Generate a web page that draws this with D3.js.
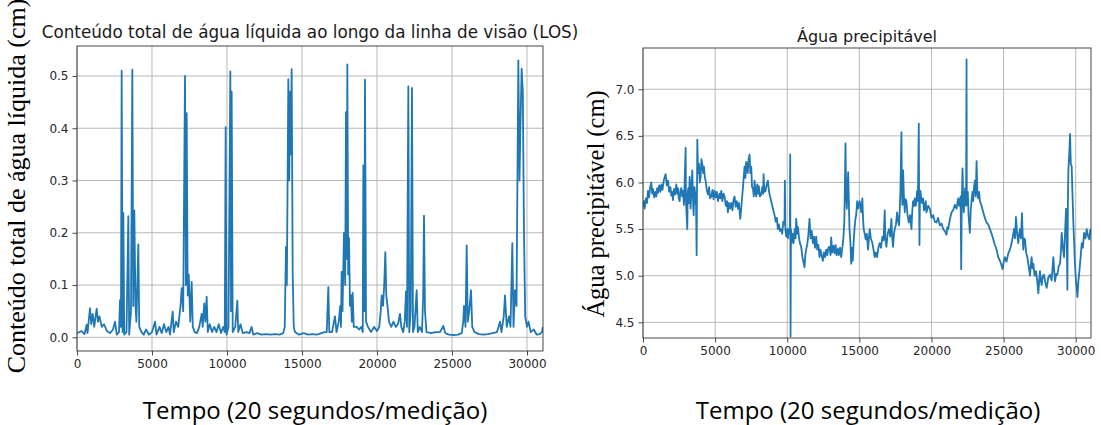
<!DOCTYPE html>
<html>
<head>
<meta charset="utf-8">
<script src="https://cdn.jsdelivr.net/npm/d3@7"></script>
<style>
  html, body { margin: 0; padding: 0; background: #fff; }
  svg { display: block; }
</style>
</head>
<body>
<svg id="chart" width="1101" height="425"></svg>
<script>
// ---------- DATA ----------
const xTicks = [0, 5000, 10000, 15000, 20000, 25000, 30000];
const lwcTicks = [0.0, 0.1, 0.2, 0.3, 0.4, 0.5];
const pwTicks = [4.5, 5.0, 5.5, 6.0, 6.5, 7.0];

const leftTitle = "Conteúdo total de água líquida ao longo da linha de visão (LOS)";
const rightTitle = "Água precipitável";
const leftYLabel = "Conteúdo total de água líquida (cm)";
const rightYLabel = "Água precipitável (cm)";
const xLabel = "Tempo (20 segundos/medição)";

const lwcTime = [0,300,500,644,700,867,950,1050,1150,1311,1400,1500,1650,1800,2000,2200,2400,2533,2650,2800,2867,2930,2978,3040,3089,3150,3300,3422,3480,3600,3689,3750,3822,3900,3960,4089,4150,4300,4450,4600,4800,5000,5200,5300,5500,5650,5800,5950,6100,6200,6378,6450,6600,6750,6900,6978,7080,7200,7260,7311,7380,7450,7550,7644,7720,7850,8000,8150,8311,8380,8480,8560,8644,8720,8850,9000,9150,9300,9450,9600,9750,9850,9911,9970,10100,10222,10270,10311,10380,10550,10689,10750,10900,11050,11300,11500,11644,11750,12000,12300,12600,12900,13200,13500,13750,13850,13933,13990,14089,14150,14200,14250,14311,14380,14450,14533,14800,15100,15400,15700,16000,16200,16500,16650,16756,16820,17000,17200,17300,17450,17550,17600,17644,17700,17800,17880,17933,17980,18022,18080,18133,18200,18270,18320,18378,18450,18650,18800,18950,19050,19089,19150,19200,19270,19400,19600,19800,20000,20150,20250,20311,20400,20480,20556,20620,20700,20800,20950,21100,21250,21400,21533,21620,21750,21850,21933,22000,22089,22150,22250,22333,22400,22500,22644,22720,22850,23000,23080,23133,23200,23300,23600,23900,24200,24422,24550,24800,25100,25400,25650,25750,25800,25900,25978,26050,26150,26267,26350,26500,26800,27100,27400,27700,28000,28200,28300,28450,28533,28650,28800,28900,29022,29100,29200,29300,29422,29500,29560,29644,29720,29800,29880,30000,30100,30250,30450,30650,30850,31000,31060];
const lwcValues = [0.008,0.012,0.006,0.024,0.008,0.056,0.025,0.045,0.02,0.055,0.03,0.04,0.02,0.025,0.012,0.008,0.015,0.03,0.005,0.01,0.071,0.02,0.51,0.01,0.238,0.005,0.01,0.232,0.005,0.05,0.512,0.06,0.243,0.06,0.03,0.178,0.02,0.01,0.005,0.015,0.005,0.01,0.03,0.005,0.02,0.008,0.025,0.01,0.02,0.005,0.049,0.01,0.03,0.02,0.06,0.094,0.05,0.50,0.1,0.429,0.08,0.12,0.03,0.106,0.02,0.01,0.008,0.02,0.045,0.02,0.065,0.03,0.078,0.01,0.025,0.01,0.02,0.01,0.025,0.008,0.02,0.01,0.402,0.005,0.02,0.509,0.05,0.47,0.01,0.02,0.07,0.01,0.025,0.008,0.01,0.008,0.02,0.005,0.008,0.005,0.006,0.005,0.006,0.005,0.008,0.02,0.173,0.1,0.494,0.3,0.47,0.35,0.513,0.12,0.02,0.01,0.005,0.008,0.005,0.006,0.005,0.007,0.01,0.01,0.096,0.01,0.01,0.04,0.01,0.03,0.06,0.02,0.125,0.05,0.2,0.1,0.431,0.15,0.522,0.12,0.19,0.06,0.08,0.03,0.085,0.02,0.02,0.015,0.02,0.01,0.329,0.05,0.493,0.03,0.02,0.01,0.02,0.012,0.02,0.05,0.08,0.06,0.1,0.163,0.08,0.06,0.03,0.02,0.03,0.02,0.025,0.045,0.02,0.01,0.03,0.088,0.02,0.48,0.01,0.05,0.477,0.01,0.02,0.09,0.01,0.02,0.01,0.08,0.233,0.05,0.01,0.008,0.01,0.01,0.022,0.008,0.005,0.004,0.005,0.008,0.03,0.06,0.02,0.176,0.03,0.05,0.09,0.02,0.01,0.006,0.005,0.006,0.008,0.01,0.03,0.01,0.04,0.08,0.02,0.04,0.02,0.18,0.02,0.09,0.06,0.53,0.3,0.4,0.514,0.47,0.2,0.04,0.02,0.03,0.01,0.015,0.005,0.006,0.01,0.02];

// Precipitable water: [time index, value in cm]
const pwSeries = [
[0,5.74],[60,5.80],[115,5.72],[200,5.83],[280,5.78],[346,5.91],[420,5.84],[500,5.95],[577,6.00],[640,5.88],
[693,5.93],[780,5.84],[850,5.90],[924,5.85],[980,5.94],[1039,5.89],[1120,5.97],[1200,5.90],[1270,5.98],[1350,5.92],
[1450,6.03],[1570,6.09],[1650,5.97],[1732,6.02],[1820,5.90],[1900,5.95],[1963,5.86],[2020,5.90],[2078,5.81],[2150,5.93],
[2230,5.87],[2309,5.98],[2370,5.88],[2424,5.94],[2480,5.83],[2540,5.80],[2600,5.92],[2655,5.94],[2720,5.85],[2771,5.91],
[2840,5.76],[2956,6.37],[2980,5.80],[3071,5.50],[3100,5.88],[3140,5.94],[3190,5.78],[3233,6.06],[3302,5.72],[3360,5.95],
[3417,6.13],[3470,5.80],[3510,5.65],[3570,5.95],[3625,5.87],[3680,5.75],[3718,5.22],[3764,6.46],[3820,6.10],[3879,6.20],
[3940,6.00],[3995,6.06],[4050,6.25],[4110,6.20],[4170,6.10],[4226,6.17],[4290,6.05],[4341,6.02],[4420,5.92],[4503,5.87],
[4580,5.95],[4650,5.83],[4734,5.85],[4820,5.92],[4890,5.82],[4965,5.91],[5050,5.84],[5120,5.90],[5196,5.80],[5300,5.88],
[5360,5.83],[5426,5.91],[5500,5.80],[5580,5.88],[5657,5.85],[5740,5.75],[5820,5.80],[5888,5.68],[5950,5.78],[6030,5.72],
[6119,5.78],[6200,5.70],[6280,5.82],[6350,5.85],[6420,5.74],[6500,5.80],[6581,5.72],[6650,5.78],[6743,5.61],[6800,5.70],
[6860,5.82],[6927,5.94],[6980,6.05],[7043,6.17],[7100,6.05],[7150,6.22],[7204,6.20],[7260,6.10],[7320,6.25],[7389,6.30],
[7440,6.10],[7504,6.17],[7560,5.95],[7620,5.94],[7680,5.85],[7735,6.02],[7790,5.90],[7851,5.85],[7920,5.98],[7980,5.88],
[8035,5.96],[8100,5.85],[8197,5.87],[8270,5.95],[8330,5.88],[8359,6.09],[8420,5.90],[8497,5.91],[8580,5.98],[8659,6.02],
[8740,5.90],[8810,5.85],[8890,5.80],[8960,5.75],[9040,5.70],[9121,5.65],[9200,5.58],[9280,5.62],[9351,5.50],[9420,5.55],
[9500,5.48],[9582,5.50],[9650,5.45],[9730,5.58],[9813,5.55],[9836,6.02],[9870,5.50],[9929,5.42],[10000,5.50],[10060,5.40],
[10090,5.50],[10180,5.45],[10206,6.30],[10229,4.35],[10260,5.50],[10298,5.35],[10360,5.45],[10437,5.35],[10520,5.50],[10580,5.40],
[10622,5.61],[10700,5.45],[10750,5.52],[10806,5.42],[10880,5.35],[10968,5.31],[11050,5.20],[11120,5.15],[11199,5.09],[11250,5.22],
[11314,5.28],[11400,5.35],[11470,5.45],[11545,5.61],[11620,5.40],[11700,5.48],[11776,5.35],[11850,5.42],[11930,5.30],[12007,5.42],
[12080,5.28],[12160,5.33],[12238,5.20],[12300,5.28],[12380,5.22],[12469,5.16],[12540,5.25],[12620,5.20],[12700,5.28],[12780,5.22],
[12850,5.30],[12930,5.31],[13000,5.22],[13046,5.41],[13120,5.25],[13200,5.32],[13277,5.24],[13350,5.33],[13420,5.22],[13508,5.29],
[13580,5.22],[13660,5.30],[13739,5.20],[13820,5.30],[13901,5.42],[13960,5.60],[14039,6.42],[14080,5.90],[14131,5.72],[14180,5.95],
[14224,6.11],[14270,5.80],[14316,5.50],[14380,5.35],[14431,5.13],[14490,5.30],[14547,5.16],[14600,5.35],[14662,5.50],[14720,5.60],
[14778,5.65],[14850,5.80],[14920,5.72],[15023,5.80],[15080,5.75],[15139,5.68],[15208,5.83],[15260,5.60],[15301,5.50],[15370,5.45],
[15440,5.39],[15520,5.45],[15602,5.28],[15660,5.40],[15718,5.50],[15800,5.40],[15903,5.35],[15980,5.28],[16065,5.20],[16140,5.25],
[16227,5.20],[16320,5.30],[16412,5.35],[16500,5.30],[16597,5.42],[16680,5.38],[16759,5.70],[16800,5.40],[16875,5.31],[16960,5.45],
[17060,5.50],[17140,5.42],[17222,5.61],[17280,5.40],[17338,5.31],[17400,5.45],[17454,5.50],[17540,5.55],[17616,5.68],[17690,5.58],
[17755,5.54],[17800,5.70],[17847,5.91],[17917,6.54],[17950,5.90],[17986,5.76],[18033,6.13],[18090,5.85],[18148,5.68],[18200,5.82],
[18264,5.80],[18340,5.65],[18426,5.57],[18520,5.65],[18611,5.50],[18670,5.70],[18727,5.80],[18790,5.75],[18843,5.83],[18920,5.75],
[19005,5.91],[19060,5.80],[19121,6.63],[19140,5.90],[19167,5.33],[19200,5.85],[19236,5.91],[19330,5.78],[19422,5.83],[19480,5.70],
[19537,5.72],[19600,5.80],[19653,5.68],[19770,5.75],[19885,5.72],[20000,5.62],[20116,5.65],[20230,5.58],[20348,5.57],[20460,5.62],
[20579,5.54],[20700,5.56],[20811,5.50],[20920,5.48],[21042,5.44],[21100,5.52],[21158,5.50],[21270,5.60],[21389,5.68],[21500,5.70],
[21621,5.76],[21740,5.72],[21852,5.83],[21920,5.75],[21968,5.80],[22020,5.85],[22061,5.07],[22100,5.80],[22153,6.15],[22200,5.80],
[22246,5.68],[22290,5.85],[22338,5.94],[22400,5.75],[22431,7.32],[22450,5.80],[22477,5.76],[22520,5.90],[22570,5.65],[22620,5.55],
[22663,5.46],[22720,5.70],[22778,5.80],[22840,5.90],[22894,5.80],[22950,5.95],[23010,6.02],[23070,5.85],[23126,6.23],[23180,5.90],
[23241,5.83],[23300,5.90],[23357,5.80],[23470,5.75],[23589,5.68],[23700,5.62],[23820,5.57],[23940,5.55],[24052,5.50],[24170,5.45],
[24283,5.39],[24400,5.33],[24515,5.28],[24630,5.20],[24746,5.16],[24840,5.12],[24931,5.07],[25010,5.15],[25093,5.20],[25200,5.15],
[25325,5.24],[25440,5.28],[25556,5.35],[25640,5.42],[25718,5.50],[25790,5.40],[25857,5.63],[25940,5.45],[26019,5.35],[26080,5.45],
[26135,5.50],[26200,5.40],[26274,5.67],[26320,5.45],[26367,5.28],[26420,5.40],[26482,5.39],[26560,5.25],[26644,5.20],[26740,5.10],
[26830,5.00],[26890,5.12],[26945,5.20],[27000,5.08],[27061,5.13],[27150,5.00],[27246,5.05],[27330,4.95],[27408,4.81],[27470,4.95],
[27524,5.05],[27580,4.95],[27640,4.90],[27720,5.00],[27801,5.01],[27900,4.92],[27987,4.87],[28100,4.98],[28219,5.01],[28330,4.95],
[28450,5.20],[28510,5.05],[28566,4.94],[28650,5.02],[28728,5.01],[28820,5.10],[28913,5.13],[28970,5.25],[29029,5.46],[29110,5.30],
[29191,5.20],[29260,5.45],[29330,5.72],[29380,5.40],[29422,4.85],[29460,5.80],[29492,6.13],[29550,6.30],[29607,6.52],[29660,6.20],
[29723,6.17],[29760,5.95],[29792,5.80],[29840,5.55],[29885,5.39],[29940,5.15],[30001,4.98],[30060,4.88],[30117,4.77],[30190,4.95],
[30256,5.05],[30340,5.20],[30418,5.35],[30500,5.30],[30580,5.46],[30680,5.40],[30765,5.50],[30860,5.42],[30950,5.39],[31000,5.48],
[31043,5.50]
];

// ---------- DRAW ----------
const svg = d3.select("#chart");
svg.append("rect").attr("width", 1101).attr("height", 425).attr("fill", "#fff");

const tickFont = "DejaVu Sans, sans-serif";
const lineColor = "#1f77b4";

function panel(opts) {
  const { x0, x1, y0, y1, xDomain, yDomain, yTicks, yFmt, data, title, titleY, titleSize } = opts;
  const x = d3.scaleLinear().domain(xDomain).range([x0, x1]);
  const y = d3.scaleLinear().domain(yDomain).range([y1, y0]);
  const g = svg.append("g");

  // grid
  g.append("g").selectAll("line").data(xTicks).join("line")
    .attr("x1", d => x(d)).attr("x2", d => x(d)).attr("y1", y0).attr("y2", y1)
    .attr("stroke", "#b0b0b0").attr("stroke-width", 0.9);
  g.append("g").selectAll("line").data(yTicks).join("line")
    .attr("x1", x0).attr("x2", x1).attr("y1", d => y(d)).attr("y2", d => y(d))
    .attr("stroke", "#b0b0b0").attr("stroke-width", 0.9);

  // line
  const clipId = "clip" + Math.round(x0);
  svg.append("defs").append("clipPath").attr("id", clipId)
    .append("rect").attr("x", x0).attr("y", y0).attr("width", x1 - x0).attr("height", y1 - y0);
  g.append("path").datum(data)
    .attr("clip-path", `url(#${clipId})`)
    .attr("fill", "none").attr("stroke", lineColor).attr("stroke-width", 1.8)
    .attr("stroke-linejoin", "round")
    .attr("d", d3.line().x(d => x(d[0])).y(d => y(d[1])));

  // axes
  const xAxis = g.append("g").attr("transform", `translate(0,${y1})`)
    .call(d3.axisBottom(x).tickValues(xTicks).tickFormat(d3.format("d")).tickSize(4.5).tickPadding(4));
  const yAxis = g.append("g").attr("transform", `translate(${x0},0)`)
    .call(d3.axisLeft(y).tickValues(yTicks).tickFormat(d3.format(yFmt)).tickSize(4.5).tickPadding(4));
  [xAxis, yAxis].forEach(a => {
    a.select(".domain").remove();
    a.selectAll("line").attr("stroke", "#333").attr("stroke-width", 0.9);
    a.selectAll("text").attr("fill", "#262626").style("font-family", tickFont).style("font-size", "12px");
  });

  // spines
  g.append("rect").attr("x", x0).attr("y", y0).attr("width", x1 - x0).attr("height", y1 - y0)
    .attr("fill", "none").attr("stroke", "#333").attr("stroke-width", 0.9);

  // title
  g.append("text").attr("x", (x0 + x1) / 2).attr("y", titleY)
    .attr("text-anchor", "middle").attr("fill", "#1a1a1a")
    .style("font-family", tickFont).style("font-size", titleSize + "px").text(title);
  return { x, y };
}

panel({ x0: 77, x1: 543, y0: 46, y1: 351, xDomain: [0, 31067], yDomain: [-0.0262, 0.5574],
  yTicks: lwcTicks, yFmt: ".1f", data: lwcTime.map((t, i) => [t, lwcValues[i]]),
  title: leftTitle, titleY: 38, titleSize: 16.8 });

panel({ x0: 643, x1: 1091, y0: 48, y1: 338, xDomain: [0, 31060], yDomain: [4.332, 7.4425],
  yTicks: pwTicks, yFmt: ".1f", data: pwSeries,
  title: rightTitle, titleY: 42, titleSize: 16 });

// y labels (serif)
svg.append("text").attr("transform", "translate(25,186) rotate(-90)")
  .attr("text-anchor", "middle").attr("fill", "#000")
  .style("font-family", "Liberation Serif, serif").style("font-size", "26px").text(leftYLabel);
svg.append("text").attr("transform", "translate(604,204) rotate(-90)")
  .attr("text-anchor", "middle").attr("fill", "#000")
  .style("font-family", "Liberation Serif, serif").style("font-size", "24.5px").text(rightYLabel);

// x labels
svg.append("text").attr("x", 315).attr("y", 419).attr("text-anchor", "middle").attr("fill", "#000")
  .style("font-family", "Open Sans, sans-serif").style("font-size", "24px").text(xLabel);
svg.append("text").attr("x", 868).attr("y", 419).attr("text-anchor", "middle").attr("fill", "#000")
  .style("font-family", "Open Sans, sans-serif").style("font-size", "24px").text(xLabel);
</script>
</body>
</html>
